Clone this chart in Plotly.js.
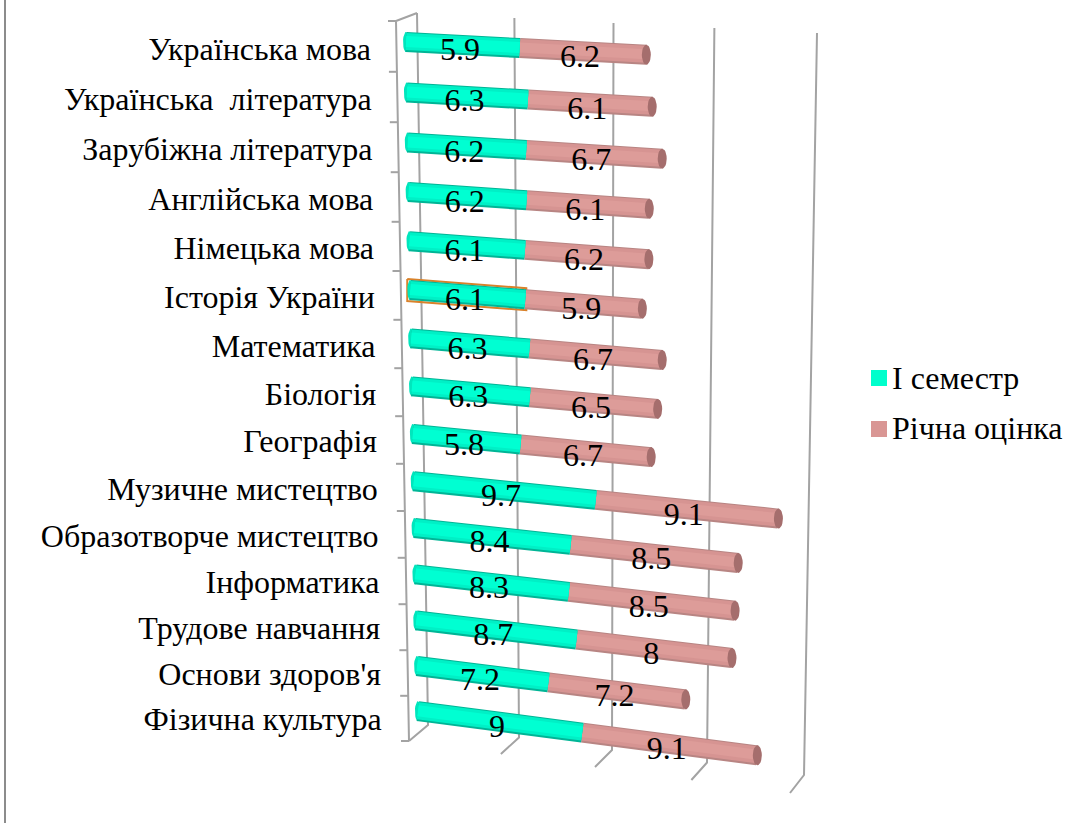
<!DOCTYPE html>
<html><head><meta charset="utf-8">
<script src="https://cdn.plot.ly/plotly-3.0.1.min.js"></script>
<style>html,body{margin:0;padding:0;background:#fff}#c{width:1079px;height:823px}</style>
</head><body><div id="c"></div>
<script>
const categories = ["Українська мова","Українська\u00a0 література","Зарубіжна література","Англійська мова","Німецька мова","Історія України","Математика","Біологія","Географія","Музичне мистецтво","Образотворче мистецтво","Інформатика","Трудове навчання","Основи здоров'я","Фізична культура"];
const semester = [5.9,6.3,6.2,6.2,6.1,6.1,6.3,6.3,5.8,9.7,8.4,8.3,8.7,7.2,9];
const annual = [6.2,6.1,6.7,6.1,6.2,5.9,6.7,6.5,6.7,9.1,8.5,8.5,8,7.2,9.1];
const gridValues = [0,5,10,15,20];
const seriesNames = ["І семестр","Річна оцінка"];
const FONT = '"Liberation Serif","Times New Roman",serif';

// oblique perspective projection of (value, row) onto the plot plane
function rowY(r){return 42+50.6*r-0.2*r*r;}
function proj(v,r){
  const s=18.7-0.066*r, q=0.096-0.003*r;
  const dx=s*v+q*v*v;
  return [406+0.85*r+dx, rowY(r)+(0.053+0.0055*r)*dx];
}
function segs(startFn,endFn,dy){
  const x=[],y=[];
  categories.forEach((_,r)=>{
    const a=proj(startFn(r),r),b=proj(endFn(r),r);
    x.push(a[0],b[0],null);y.push(a[1]+dy,b[1]+dy,null);
  });
  return {x,y};
}
function band(startFn,endFn,dy,w,color){
  const p=segs(startFn,endFn,dy);
  return {type:'scatter',mode:'lines',x:p.x,y:p.y,showlegend:false,hoverinfo:'skip',
    line:{color:color,width:w,simplify:false}};
}
function ellipses(valFn,rx,ry,color){
  const x=[],y=[];
  categories.forEach((_,r)=>{
    const c=proj(valFn(r),r);
    for(let i=0;i<=24;i++){const t=i/24*2*Math.PI;x.push(c[0]+rx*Math.cos(t));y.push(c[1]+ry*Math.sin(t));}
    x.push(null);y.push(null);
  });
  return {type:'scatter',mode:'lines',x,y,fill:'toself',fillcolor:color,line:{width:0,color:color},showlegend:false,hoverinfo:'skip'};
}
const zero=()=>0, s1=r=>semester[r], tot=r=>semester[r]+annual[r];
const traces=[];

// chart-area edge
traces.push({type:'scatter',mode:'lines',x:[5,5],y:[0,823],line:{color:'#8c8c8c',width:2},showlegend:false,hoverinfo:'skip'});

// walls and gridlines
const gx=[],gy=[];
gridValues.forEach(v=>{
  gx.push(417+19.3*v+0.035*v*v,428+18*v+0.04*v*v,409+18.15*v+0.045*v*v,null);
  gy.push(13+v,725+2.5*v,741+2.6*v,null);
});
gx.push(417,396,409,null);gy.push(13,21,741,null);
for(let k=0;k<=15;k++){
  const yy=21+51*k-0.2*k*k, xx=396+13*(yy-21)/720;
  gx.push(xx-8,xx,null);gy.push(yy,yy,null);
}
traces.push({type:'scatter',mode:'lines',x:gx,y:gy,line:{color:'#a3a3a3',width:2},showlegend:false,hoverinfo:'skip'});

// highlighted segment outline (Історія України)
const hl=5, h0=proj(0,hl), h1=proj(semester[hl],hl);
traces.push({type:'scatter',mode:'lines',x:[h0[0]-3,h1[0]+1,h1[0]+1,h0[0]-3,h0[0]-3],y:[h0[1]-11,h1[1]-11,h1[1]+11,h0[1]+11,h0[1]-11],
  line:{color:'#d9822b',width:2},showlegend:false,hoverinfo:'skip'});

// annual bars
traces.push(band(s1,tot,0,20,'#b88583'));
traces.push(band(s1,tot,-0.5,17,'#d69492'));
traces.push(band(s1,tot,-0.5,10,'#dd9c99'));
traces.push(ellipses(tot,4.5,10,'#a56e6d'));
// semester bars
traces.push(ellipses(zero,3,10,'#00e6bd'));
traces.push(band(zero,s1,0,20,'#00b596'));
traces.push(band(zero,s1,-0.5,17,'#00f0c6'));
traces.push(band(zero,s1,-0.5,11,'#00ffd2'));

// category labels
const lx=[],ly=[];
categories.forEach((_,r)=>{lx.push(371+0.76*r);ly.push(rowY(r)+9.5+r*0.1);});
traces.push({type:'scatter',mode:'text',x:lx,y:ly,text:categories,textposition:'middle left',
  textfont:{family:FONT,size:32,color:'#000'},showlegend:false,hoverinfo:'skip'});

// value labels
function labels(startFn,endFn,vals){
  const x=[],y=[];
  categories.forEach((_,r)=>{
    const p=proj((startFn(r)+endFn(r))/2,r);
    x.push(p[0]-2);y.push(p[1]+7.5);
  });
  return {type:'scatter',mode:'text',x,y,text:vals.map(String),textposition:'middle center',
    textfont:{family:FONT,size:32,color:'#000'},showlegend:false,hoverinfo:'skip'};
}
traces.push(labels(zero,s1,semester));
traces.push(labels(s1,tot,annual));

// legend entries
[['#00ffcc',378,381],['#d99694',429,431]].forEach((e,i)=>{
  traces.push({type:'scatter',mode:'markers',x:[879],y:[e[1]],name:seriesNames[i],
    marker:{symbol:'square',size:16,color:e[0]},showlegend:false,hoverinfo:'skip'});
  traces.push({type:'scatter',mode:'text',x:[892],y:[e[2]],text:[seriesNames[i]],
    textposition:'middle right',textfont:{family:FONT,size:32,color:'#000'},showlegend:false,hoverinfo:'skip'});
});

const layout={
  width:1079,height:823,margin:{l:0,r:0,t:0,b:0},paper_bgcolor:'#fff',plot_bgcolor:'#fff',
  xaxis:{range:[0,1079],visible:false,fixedrange:true},
  yaxis:{range:[823,0],visible:false,fixedrange:true},
  showlegend:false
};
Plotly.newPlot('c',traces,layout,{staticPlot:true,displayModeBar:false});
</script></body></html>
